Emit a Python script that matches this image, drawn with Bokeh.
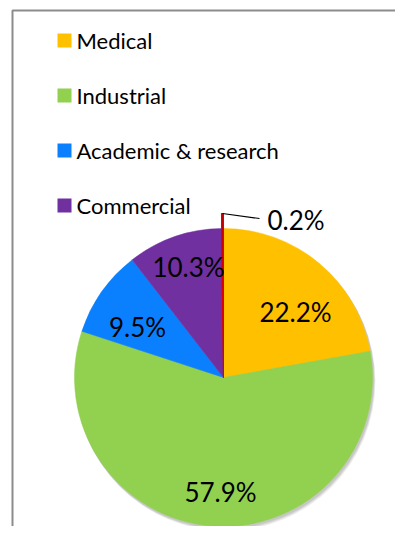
import numpy as np
from bokeh.plotting import figure
from bokeh.models import Range1d, ColumnDataSource
from bokeh.core.properties import value
from bokeh.embed import file_html
from bokeh.resources import INLINE

# ---- data ----
categories = ["Medical", "Industrial", "Academic & research", "Commercial", "Other"]
shares = [22.2, 57.9, 9.5, 10.3, 0.2]
colors = ["#FFC000", "#92D050", "#0A80FF", "#7030A0", "#C00000"]
legend_items = ["Medical", "Industrial", "Academic & research", "Commercial"]
label_texts = ["22.2%", "57.9%", "9.5%", "10.3%", "0.2%"]

W, H = 395, 526
FONT = "Lato"

p = figure(width=W, height=H, output_backend="svg", toolbar_location=None,
           x_range=Range1d(0, W), y_range=Range1d(0, H), min_border=0)
p.axis.visible = False
p.grid.visible = False
p.outline_line_color = None
p.background_fill_color = "white"
p.border_fill_color = "white"

def sx(X):
    return X

def sy(Y):
    return H - Y

cx, cy, r = sx(223), sy(377), 149

# frame (left and top border)
p.line([sx(12), sx(12), sx(420)], [sy(560), sy(10), sy(10)], line_color="#8c8c8c", line_width=2)

# wedges (clockwise from 12 o'clock)
vals = np.array(shares, dtype=float)
frac = vals / vals.sum()
cum = np.concatenate([[0], np.cumsum(frac)])
starts = np.pi / 2 - cum[:-1] * 2 * np.pi
ends = np.pi / 2 - cum[1:] * 2 * np.pi
radii = [r, r, r, r, r + 15]

# soft shadow
for off, a in [(4, 0.10), (3, 0.12), (2, 0.15)]:
    p.circle(x=[cx + off * 0.6], y=[cy - off], radius=r + 0.5, fill_color="#555555",
             fill_alpha=a, line_color=None)

src = ColumnDataSource(dict(start=starts, end=ends, color=colors, radius=radii))
p.wedge(x=cx, y=cy, radius="radius", start_angle="start", end_angle="end",
        direction="clock", fill_color="color", line_color="color", line_width=0.5,
        source=src)
# the tiny slice outline
p.wedge(x=cx, y=cy, radius=r + 15, start_angle=starts[4], end_angle=ends[4],
        direction="clock", fill_color="#C00000", line_color="#E00000", line_width=1)

# data labels (positions)
lx = [sx(295), sx(220), sx(137), sx(188)]
ly = [sy(311), sy(491), sy(326), sy(266)]
p.text(x=lx, y=ly, text=label_texts[:4], text_font=value(FONT), text_font_size="26px",
       text_align="center", text_baseline="middle", text_color="#000000")

# leader for the small slice
p.line([sx(222), sx(259)], [sy(213), sy(218)], line_color="#000000", line_width=1.2)
p.text(x=[sx(267)], y=[sy(219)], text=[label_texts[4]], text_font=value(FONT),
       text_font_size="26px", text_align="left", text_baseline="middle", text_color="#000000")

# legend
leg_y = [sy(40), sy(95), sy(150), sy(205)]
p.rect(x=[sx(64)] * 4, y=leg_y, width=14, height=14, fill_color=colors[:4], line_color=None)
p.text(x=[sx(76)] * 4, y=leg_y, text=legend_items, text_font=value(FONT),
       text_font_size="22px", text_align="left", text_baseline="middle", text_color="#000000")

open("out.html", "w").write(file_html(p, INLINE))
